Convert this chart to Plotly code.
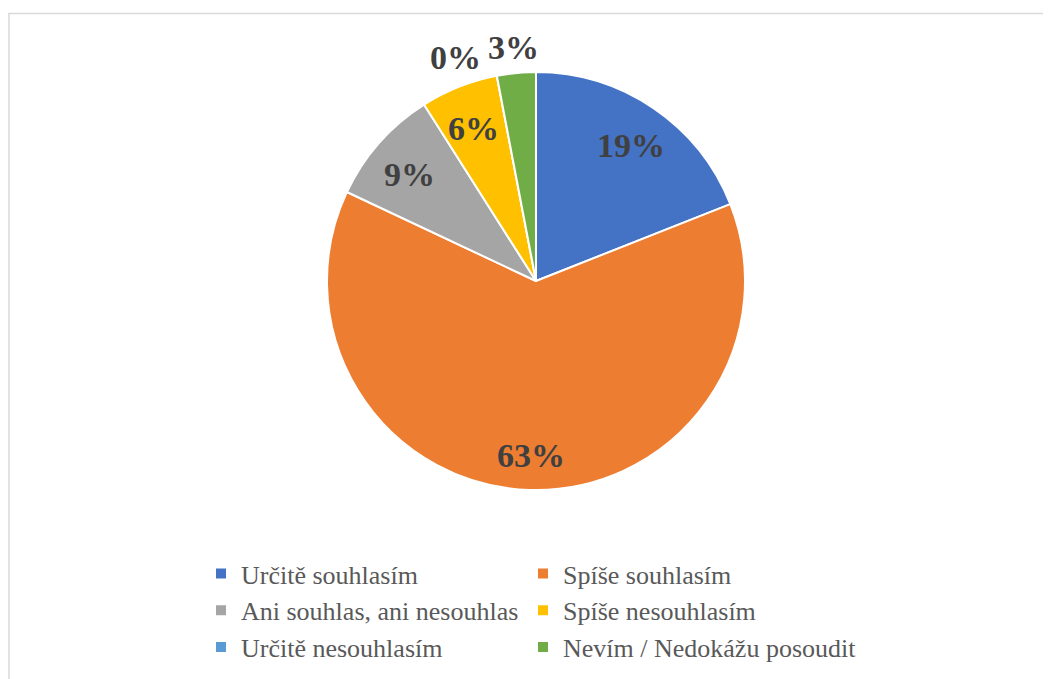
import math
import plotly.graph_objects as go

labels = ["Určitě souhlasím", "Spíše souhlasím", "Ani souhlas, ani nesouhlas",
          "Spíše nesouhlasím", "Určitě nesouhlasím", "Nevím / Nedokážu posoudit"]
values = [19, 63, 9, 6, 0, 3]
colors = ["#4472C4", "#ED7D31", "#A5A5A5", "#FFC000", "#5B9BD5", "#70AD47"]

W, H = 1051, 679
ML, MR = 203, 148          # plot-area margins (legend anchored at plot-area left)
GW = W - ML - MR
cx, cy, r = 528, 273, 209  # pie centre / radius in figure px


def px_to_paper(x, y):
    return (x - ML) / GW, (H - y) / H


fig = go.Figure(go.Pie(
    labels=labels, values=values, sort=False, direction="clockwise", rotation=0,
    marker=dict(colors=colors, line=dict(color="white", width=2)),
    textinfo="none",
    domain=dict(x=[(cx - r - ML) / GW, (cx + r - ML) / GW],
                y=[(H - cy - r) / H, (H - cy + r) / H]),
    showlegend=True, hoverinfo="label+percent",
))

# data labels placed from the slice angles (derived from the values)
total = sum(values)
annotations = []
cum = 0
for i, v in enumerate(values):
    frac = v / total
    mid = (cum + frac / 2) * 2 * math.pi
    cum += frac
    outside = frac < 0.05
    f = 1.12 if outside else 0.81
    px = cx + f * r * math.sin(mid)
    py = cy - f * r * math.cos(mid)
    xp, yp = px_to_paper(px, py)
    annotations.append(dict(
        x=xp, y=yp, xref="paper", yref="paper", showarrow=False,
        xanchor="center", yanchor="middle",
        text=f"{round(frac * 100)}%",
        xshift=-37 if v == 0 else 0,
        yshift=-6 if v == 0 else (0 if outside else -5),
        font=dict(family="Liberation Serif", size=34, color="#404040", weight="bold"),
    ))

fig.update_layout(
    width=W, height=H, margin=dict(l=ML, r=MR, t=0, b=0),
    paper_bgcolor="white", plot_bgcolor="white",
    annotations=annotations,
    legend=dict(orientation="h", x=0, xanchor="left", y=(H - 542) / H, yanchor="top",
                font=dict(family="Liberation Serif", size=26, color="#595959"),
                entrywidthmode="fraction", entrywidth=322 / GW, traceorder="normal",
                indentation=-10, bgcolor="rgba(0,0,0,0)"),
    shapes=[dict(type="rect", xref="paper", yref="paper",
                 x0=(1 - ML) / GW, x1=(1060 - ML) / GW, y0=-0.02, y1=(H - 5.5) / H,
                 line=dict(color="#D9D9D9", width=1.5), fillcolor="rgba(0,0,0,0)", layer="below")],
)

fig.write_html("out.html")
